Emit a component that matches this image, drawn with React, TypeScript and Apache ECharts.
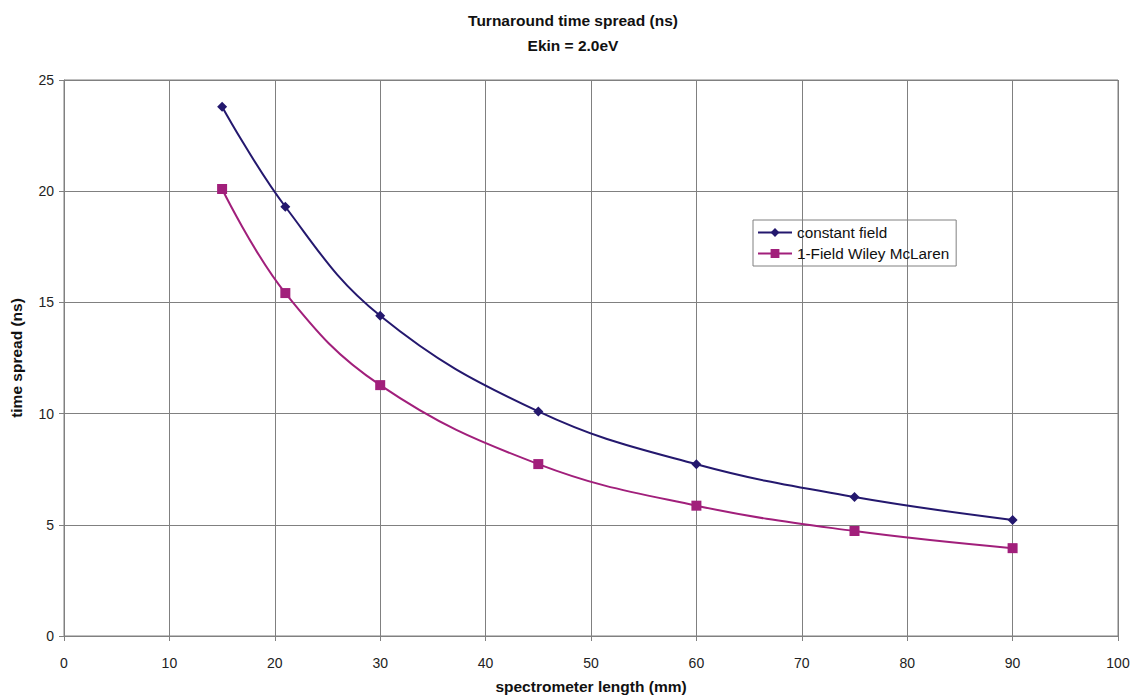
import React, { useEffect, useRef } from "react";
import * as echarts from "echarts";

const lengths = [15, 21, 30, 45, 60, 75, 90];
const constantField = [23.8, 19.3, 14.4, 10.1, 7.72, 6.25, 5.22];
const wileyMcLaren = [20.1, 15.42, 11.28, 7.73, 5.86, 4.72, 3.95];
const seriesNames = ["constant field", "1-Field Wiley McLaren"];

export default function App() {
  const ref = useRef<HTMLDivElement>(null);
  useEffect(() => {
    if (!ref.current) return;
    const chart = echarts.init(ref.current, null, { renderer: "svg" });
    const font = "Arial, 'Liberation Sans', sans-serif";
    chart.setOption({
      animation: false,
      backgroundColor: "#ffffff",
      textStyle: { fontFamily: font },
      title: {
        text: "Turnaround time spread (ns)\nEkin = 2.0eV",
        left: 568,
        textAlign: "center",
        top: 3,
        textStyle: { fontSize: 15.5, fontWeight: "bold", color: "#111", lineHeight: 25, fontFamily: font },
      },
      legend: {
        orient: "vertical",
        left: 753,
        top: 220,
        borderColor: "#808080",
        borderWidth: 1,
        padding: [5, 7, 5, 4],
        itemGap: 6,
        itemWidth: 34,
        itemHeight: 11,
        textStyle: { fontSize: 15.3, color: "#111", fontFamily: font },
        data: seriesNames,
      },
      grid: {
        left: 64,
        right: 20,
        top: 80,
        bottom: 60,
        show: true,
        borderColor: "#808080",
        borderWidth: 1,
        outerBoundsMode: "none",
        containLabel: false,
      },
      xAxis: {
        type: "value",
        min: 0,
        max: 100,
        interval: 10,
        name: "spectrometer length (mm)",
        nameLocation: "middle",
        nameGap: 42,
        nameTextStyle: { fontSize: 15.5, fontWeight: "bold", color: "#111", fontFamily: font },
        axisLine: { lineStyle: { color: "#808080" } },
        axisTick: { show: true, length: 5, lineStyle: { color: "#808080" } },
        axisLabel: { fontSize: 14, color: "#222", margin: 20, fontFamily: font },
        splitLine: { show: true, lineStyle: { color: "#808080", width: 1 } },
      },
      yAxis: {
        type: "value",
        min: 0,
        max: 25,
        interval: 5,
        name: "time spread (ns)",
        nameLocation: "middle",
        nameGap: 40,
        nameTextStyle: { fontSize: 15.5, fontWeight: "bold", color: "#111", fontFamily: font },
        axisLine: { show: true, lineStyle: { color: "#808080" } },
        axisTick: { show: true, length: 5, lineStyle: { color: "#808080" } },
        axisLabel: { fontSize: 14, color: "#222", margin: 10, fontFamily: font },
        splitLine: { show: true, lineStyle: { color: "#808080", width: 1 } },
      },
      series: [
        {
          name: seriesNames[0],
          type: "line",
          smooth: 0.4,
          data: lengths.map((x, i) => [x, constantField[i]]),
          symbol: "diamond",
          symbolSize: 10,
          lineStyle: { color: "#24186e", width: 2 },
          itemStyle: { color: "#24186e" },
        },
        {
          name: seriesNames[1],
          type: "line",
          smooth: 0.4,
          data: lengths.map((x, i) => [x, wileyMcLaren[i]]),
          symbol: "rect",
          symbolSize: 10,
          lineStyle: { color: "#a11f7b", width: 2 },
          itemStyle: { color: "#a11f7b" },
        },
      ],
    });
    return () => chart.dispose();
  }, []);
  return <div ref={ref} style={{ position: "fixed", left: 0, top: 0, width: 1138, height: 696 }} />;
}
